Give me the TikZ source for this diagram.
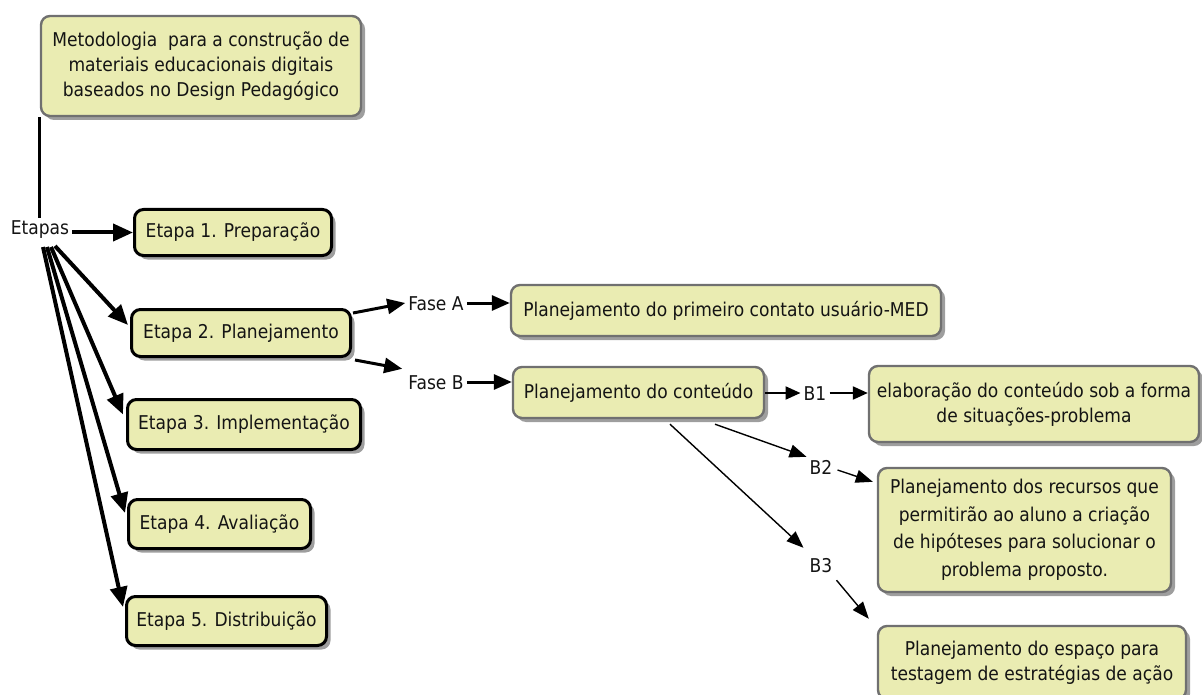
\documentclass[tikz,border=0pt]{standalone}
\usepackage{fontspec}
\setmainfont{DejaVu Sans Condensed}
\usetikzlibrary{arrows.meta,shadows,calc}
\definecolor{boxfill}{RGB}{234,236,178}
\definecolor{boxline}{RGB}{112,112,112}
\definecolor{ink}{RGB}{20,20,20}

\begin{document}
\begin{tikzpicture}[x=1pt,y=-1pt,
  font=\fontsize{19}{25}\selectfont, text=ink,
  card/.style={rounded corners=9pt, fill=boxfill, draw=boxline, line width=2.4pt,
    align=center, inner sep=0pt,
    drop shadow={shadow xshift=4pt,shadow yshift=-4pt,fill=black,opacity=0.38}},
  etapa/.style={card, draw=black, line width=3pt},
  tag/.style={inner sep=3pt, text height=14pt, text depth=0pt},
  heavy/.style={line width=4pt, -{Triangle[length=20pt,width=17pt]}},
  medium/.style={line width=3pt, -{Triangle[length=18pt,width=15pt]}},
  light/.style={line width=2.2pt, -{Triangle[length=15pt,width=13pt]}},
  fine/.style={line width=1.4pt, -{Triangle[length=17pt,width=13pt]}},
]
\useasboundingbox (0,0) rectangle (1202,695);

% title box
\node[card, minimum width=320pt, minimum height=100pt] (top) at (201,66)
  {Metodologia\ \ para a construção de\\materiais educacionais digitais\\baseados no Design Pedagógico};

% stages
\node[tag] (etapas) at (40,228) {Etapas};
\node[etapa, minimum width=197pt, minimum height=46pt] (e1) at (233,232.5) {Etapa 1. Preparação};
\node[etapa, minimum width=219pt, minimum height=47pt] (e2) at (241,333) {Etapa 2. Planejamento};
\node[etapa, minimum width=233pt, minimum height=50pt] (e3) at (244,424.5) {Etapa 3. Implementação};
\node[etapa, minimum width=182pt, minimum height=49pt] (e4) at (219.5,524) {Etapa 4. Avaliação};
\node[etapa, minimum width=200pt, minimum height=49pt] (e5) at (226.5,621) {Etapa 5. Distribuição};

% phases of the planning stage
\node[tag] (faseA) at (436,303) {Fase A};
\node[tag] (faseB) at (436,382) {Fase B};
\node[card, minimum width=430pt, minimum height=51pt] (fa) at (726,310.5) {Planejamento do primeiro contato usuário-MED};
\node[card, minimum width=251pt, minimum height=51pt] (pc) at (638.5,392.5) {Planejamento do conteúdo};

% content planning steps
\node[tag] (lb1) at (815,393) {B1};
\node[tag] (lb2) at (821,467) {B2};
\node[tag] (lb3) at (821,565) {B3};
\node[card, minimum width=330pt, minimum height=76pt] (b1box) at (1034,404)
  {elaboração do conteúdo sob a forma\\de situações-problema};
\node[card, minimum width=293pt, minimum height=124pt,
  font=\fontsize{19}{27.5}\selectfont] (b2box) at (1024.5,530)
  {Planejamento dos recursos que\\permitirão ao aluno a criação\\de hipóteses para solucionar o\\problema proposto.};
\node[card, minimum width=308pt, minimum height=73pt] (b3box) at (1032,662.5)
  {Planejamento do espaço para\\testagem de estratégias de ação};

% connectors
\draw[line width=3pt] (top.south west) -- (top.south west |- etapas.north);
\draw[heavy] (etapas.east |- e1.west) -- (e1.west);

\coordinate (f2) at (55,246);
\coordinate (f3) at (51,247);
\coordinate (f4) at (47,247);
\coordinate (f5) at (43,247);
\draw[heavy] (f2) -- ($(e2.west)+(-2,-8)$);
\draw[heavy] (f3) -- ($(e3.west)+(-3,-10)$);
\draw[heavy] (f4) -- ($(e4.west)+(-2,-11)$);
\draw[heavy] (f5) -- ($(e5.west)+(-2,-14)$);

\draw[medium] ($(e2.east)+(1,-20)$) -- (faseA.west);
\draw[medium] ($(e2.south east)+(3,2)$) -- ($(faseB.north west)+(-3,-3)$);
\draw[medium] (faseA.east) -- (faseA.east -| fa.west);
\draw[medium] (faseB.east) -- (faseB.east -| pc.west);

\draw[light] (pc.east |- lb1.west) -- (lb1.west);
\draw[light] (lb1.east) -- (lb1.east -| b1box.west);

\draw[fine] ($(pc.south)+(76.5,5)$) -- (lb2.north west);
\draw[fine] ($(pc.south)+(31.5,5)$) -- ($(lb3.north west)+(-3,-7)$);
\draw[fine] ($(lb2.east)+(2,3)$) -- ($(b2box.north west)+(-4,15)$);
\draw[fine] ($(lb3.south east)+(1,5)$) -- ($(b3box.north west)+(-8,-6)$);
\end{tikzpicture}
\end{document}
